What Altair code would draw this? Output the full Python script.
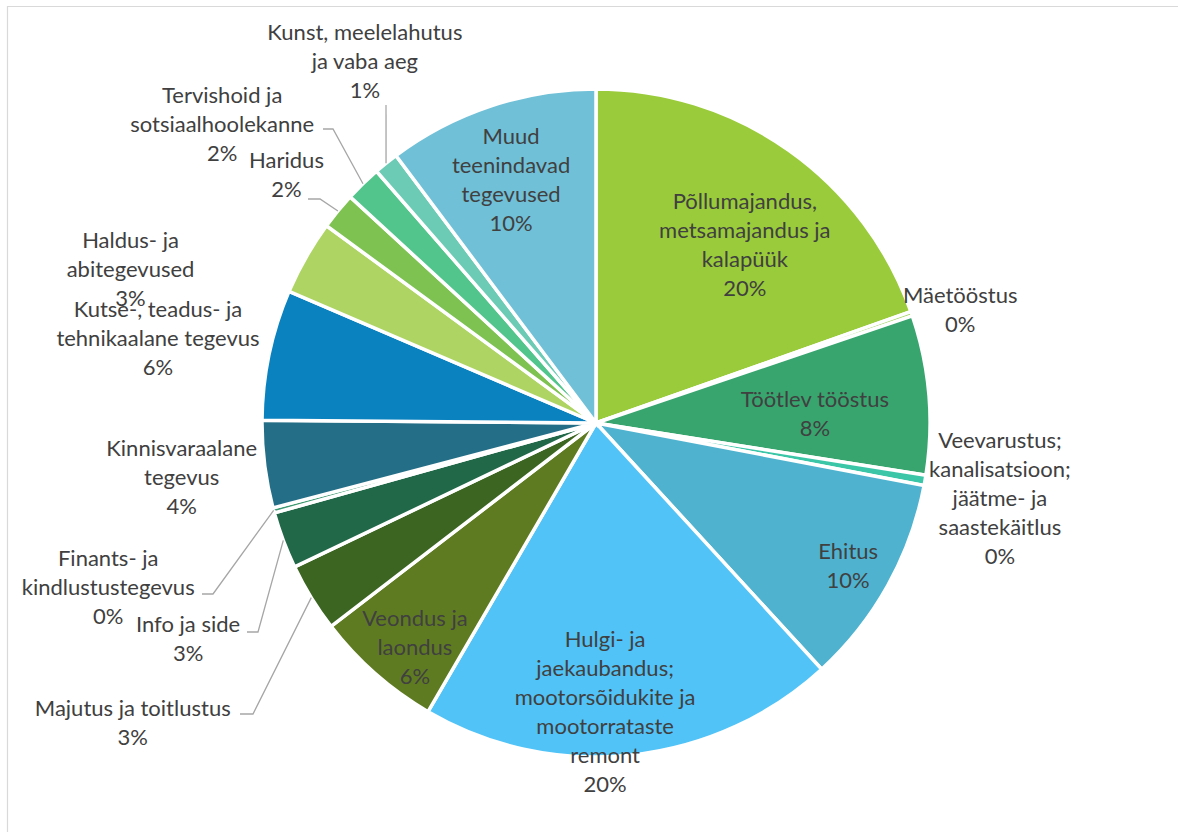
import altair as alt
import pandas as pd
import numpy as np

# ---------------- data ----------------
categories = [
    "Põllumajandus, metsamajandus ja kalapüük",
    "Mäetööstus",
    "Töötlev tööstus",
    "Veevarustus; kanalisatsioon; jäätme- ja saastekäitlus",
    "Ehitus",
    "Hulgi- ja jaekaubandus; mootorsõidukite ja mootorrataste remont",
    "Veondus ja laondus",
    "Majutus ja toitlustus",
    "Info ja side",
    "Finants- ja kindlustustegevus",
    "Kinnisvaraalane tegevus",
    "Kutse-, teadus- ja tehnikaalane tegevus",
    "Haldus- ja abitegevused",
    "Haridus",
    "Tervishoid ja sotsiaalhoolekanne",
    "Kunst, meelelahutus ja vaba aeg",
    "Muud teenindavad tegevused",
]
values = [19.58, 0.22, 7.69, 0.5, 10.19, 20.19, 6.19, 3.33, 2.75, 0.25,
          4.22, 6.31, 3.61, 1.78, 1.75, 1.19, 10.22]
pct_labels = ["20%", "0%", "8%", "0%", "10%", "20%", "6%", "3%", "3%", "0%",
              "4%", "6%", "3%", "2%", "2%", "1%", "10%"]
label_lines = [
    "Põllumajandus,\nmetsamajandus ja\nkalapüük",
    "Mäetööstus",
    "Töötlev tööstus",
    "Veevarustus;\nkanalisatsioon;\njäätme- ja\nsaastekäitlus",
    "Ehitus",
    "Hulgi- ja\njaekaubandus;\nmootorsõidukite ja\nmootorrataste\nremont",
    "Veondus ja\nlaondus",
    "Majutus ja toitlustus",
    "Info ja side",
    "Finants- ja\nkindlustustegevus",
    "Kinnisvaraalane\ntegevus",
    "Kutse-, teadus- ja\ntehnikaalane tegevus",
    "Haldus- ja\nabitegevused",
    "Haridus",
    "Tervishoid ja\nsotsiaalhoolekanne",
    "Kunst, meelelahutus\nja vaba aeg",
    "Muud\nteenindavad\ntegevused",
]

# ---------------- style / layout ----------------
colors = ["#9ACB3A", "#A6D86A", "#38A56F", "#3CC6A8", "#4FB3D0", "#52C3F7",
          "#5F7B22", "#3C6522", "#216848", "#3D9970", "#246F87", "#0A82BF",
          "#AED563", "#7EC251", "#52C58C", "#6BCBB5", "#70C0D8"]
CX, CY, R = 596, 423, 334
LINE_H = 29
# polar position (degrees clockwise from top, px) of each label block's centre
label_angle = [39.9, 72.9, 87.9, 100.65, 119.6, 178.2, 218.8, 237.06, 242.0,
               251.3, 262.4, 280.86, 288.2, 308.6, 308.55, 327.4, 340.7]
label_radius = [232, 381, 219, 411, 290, 290, 289, 552, 462, 515, 418, 446,
                490, 396, 478, 429, 257]
# leader lines: category index -> elbow/end points (pixels)
leaders = {
    15: [(386, 105)],
    14: [(333, 129), (323, 129)],
    13: [(320, 199), (308, 199)],
    9: [(213, 594), (202, 594)],
    8: [(258, 632), (247, 632)],
    7: [(253, 714), (240, 714)],
}

n = len(categories)
labels = [l + "\n" + p for l, p in zip(label_lines, pct_labels)]
# Vega anchors the first line of a multi-line text: shift anchor up by half the block
la, lr = [], []
for a, r, t in zip(label_angle, label_radius, labels):
    nl = t.count("\n") + 1
    th = np.deg2rad(a)
    bx = r * np.sin(th)
    by = -r * np.cos(th) - (nl - 1) * LINE_H / 2
    la.append(np.degrees(np.arctan2(bx, -by)) % 360)
    lr.append(float(np.hypot(bx, by)))

df = pd.DataFrame({
    "category": categories,
    "value": values,
    "order": list(range(n)),
    "label": labels,
    "la": la,
    "lr": lr,
})

# leader line start: middle angle of slice on its edge
total = sum(values)
cum = np.cumsum([0] + values)
rows = []
for idx, pts in leaders.items():
    mid = (cum[idx] + cum[idx + 1]) / 2 / total * 2 * np.pi
    sx = CX + R * np.sin(mid)
    sy = CY - R * np.cos(mid)
    allpts = [(sx, sy)] + pts
    for k, (px, py) in enumerate(allpts):
        rows.append({"g": idx, "o": k, "x": px, "y": py})
lead_df = pd.DataFrame(rows)

arcs = alt.Chart(df).mark_arc(outerRadius=R, stroke="white", strokeWidth=3.5).encode(
    theta=alt.Theta("value:Q", stack=True),
    color=alt.Color("category:N", scale=alt.Scale(domain=categories, range=colors), legend=None),
    order=alt.Order("order:Q"),
    x=alt.value(CX),
    y=alt.value(CY),
)

texts = alt.Chart(df).mark_text(
    lineBreak="\n", font="Lato", fontSize=22, color="#404040",
    lineHeight=LINE_H, align="center", baseline="middle",
).encode(
    theta=alt.Theta("la:Q", stack=False, scale=alt.Scale(domain=[0, 360], range=[0, 2 * np.pi])),
    radius=alt.Radius("lr:Q", scale=alt.Scale(type="linear", domain=[0, 1000], range=[0, 1000], zero=True)),
    text="label:N",
    x=alt.value(CX),
    y=alt.value(CY),
)

lines = alt.Chart(lead_df).mark_line(color="#A6A6A6", strokeWidth=1.3).encode(
    x=alt.X("x:Q", scale=None),
    y=alt.Y("y:Q", scale=None),
    detail="g:N",
    order="o:Q",
)

border_top = alt.Chart(pd.DataFrame({"a": [0]})).mark_rule(color="#D9D9D9", strokeWidth=1.2).encode(
    x=alt.value(7), x2=alt.value(1190), y=alt.value(6.5))
border_left = alt.Chart(pd.DataFrame({"a": [0]})).mark_rule(color="#D9D9D9", strokeWidth=1.2).encode(
    x=alt.value(7.5), y=alt.value(6), y2=alt.value(850))

chart = alt.layer(border_top, border_left, arcs, lines, texts).resolve_scale(
    theta="independent", radius="independent"
).properties(
    width=1178, height=832, autosize=alt.AutoSizeParams(type="none"), padding=0,
    background="white",
).configure_view(stroke=None)

chart.save("out.html", embed_options={"renderer": "svg", "actions": False})
